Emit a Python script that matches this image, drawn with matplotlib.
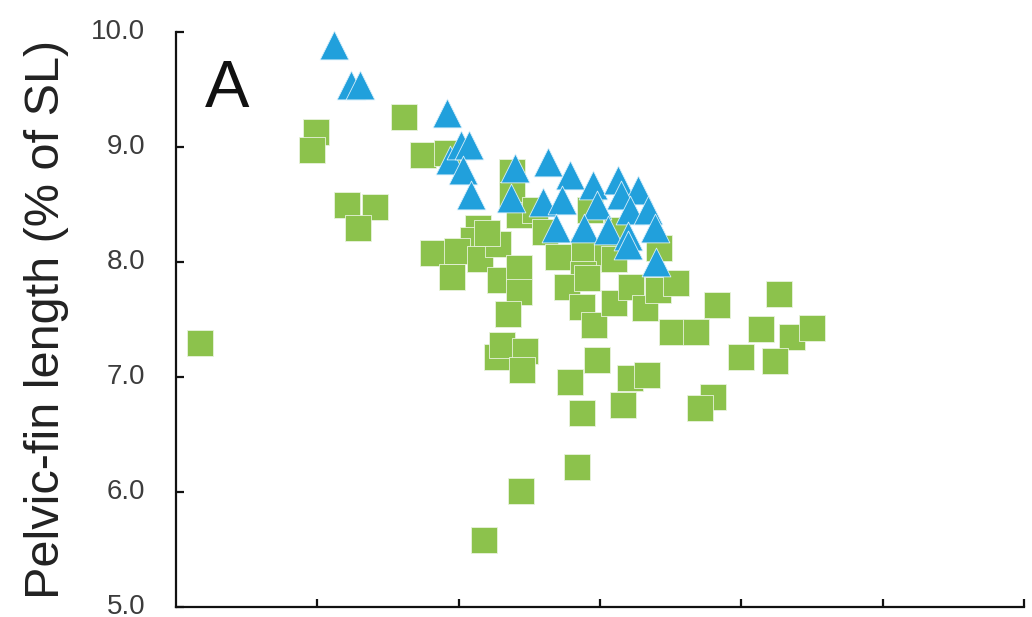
import matplotlib
matplotlib.use("Agg")
import matplotlib.pyplot as plt

plt.rcParams['font.family'] = ['Liberation Sans', 'DejaVu Sans']

# group 1 (green squares)
sq_x = [0.17, 0.99, 0.96, 1.21, 1.41, 1.29, 1.61, 1.75, 1.92, 1.82,
        1.95, 2.14, 2.10, 1.99, 2.15, 2.28, 2.29, 2.43, 2.43, 2.35,
        2.27, 2.31, 2.47, 2.45, 2.18, 2.44, 2.84, 2.38, 2.38, 2.43,
        2.54, 2.20, 2.93, 3.12, 2.61, 2.70, 2.89, 3.05, 2.88, 2.77,
        2.91, 2.87, 2.96, 3.10, 3.10, 3.22, 3.32, 3.41, 3.54, 3.42,
        3.51, 3.68, 3.83, 2.98, 2.79, 2.87, 3.21, 3.33, 3.16, 3.80,
        3.71, 4.00, 4.14, 4.27, 4.36, 4.50, 4.24]
sq_y = [7.30, 9.13, 8.97, 8.50, 8.48, 8.30, 9.26, 8.93, 8.95, 8.08,
        7.87, 8.30, 8.19, 8.10, 8.03, 8.16, 7.84, 7.95, 7.74, 7.55,
        7.17, 7.28, 7.23, 7.06, 5.58, 6.01, 6.22, 8.78, 8.58, 8.41,
        8.45, 8.25, 8.45, 8.28, 8.26, 8.04, 8.10, 8.04, 7.90, 7.78,
        7.86, 7.61, 7.45, 8.03, 7.64, 7.78, 7.60, 7.76, 7.82, 8.12,
        7.39, 7.39, 7.63, 7.15, 6.96, 6.69, 6.99, 7.02, 6.76, 6.83,
        6.73, 7.17, 7.42, 7.72, 7.35, 7.43, 7.14]

# group 2 (blue triangles)
tri_x = [1.12, 1.24, 1.30, 1.92, 1.94, 2.02, 2.07, 2.03, 2.09, 2.40,
         2.63, 2.79, 2.95, 3.13, 3.27, 3.15, 2.37, 2.60, 2.73, 2.98,
         3.21, 3.34, 3.39, 2.69, 2.89, 3.06, 3.20, 3.20, 3.40]
tri_y = [9.89, 9.54, 9.54, 9.30, 8.89, 9.02, 9.02, 8.80, 8.58, 8.82,
         8.87, 8.76, 8.67, 8.71, 8.63, 8.58, 8.56, 8.52, 8.54, 8.50,
         8.45, 8.45, 8.30, 8.30, 8.30, 8.28, 8.23, 8.15, 8.00]

y_ticks = [5.0, 6.0, 7.0, 8.0, 9.0, 10.0]

fig = plt.figure(figsize=(10.32, 6.17), dpi=100)
ax = fig.add_axes([0.1705, 0.0162, 0.8217, 0.9319])

ax.scatter(sq_x, sq_y, marker='s', s=340, color='#8cc24c',
           edgecolors='#e8f3dc', linewidths=0.6, zorder=2, clip_on=False)
ax.scatter(tri_x, tri_y, marker='^', s=430, color='#21a0dc',
           edgecolors='#d8eefa', linewidths=0.6, zorder=3, clip_on=False)

ax.set_xlim(0, 6)
ax.set_ylim(5, 10)
ax.set_xticks([1, 2, 3, 4, 5, 6])
ax.set_xticklabels([])
ax.set_yticks(y_ticks)
ax.set_yticklabels(['%.1f' % v for v in y_ticks])

for side in ['top', 'right']:
    ax.spines[side].set_visible(False)
for side in ['left', 'bottom']:
    ax.spines[side].set_linewidth(1.6)
    ax.spines[side].set_color('#111111')

ax.tick_params(axis='both', direction='in', length=6, width=1.6, color='#111111')
ax.tick_params(axis='y', labelsize=20, labelcolor='#3c3c3c', pad=22)
for lbl in ax.get_yticklabels():
    lbl.set_verticalalignment('center')

ax.set_ylabel('Pelvic-fin length (% of SL)', fontsize=35, color='#222222', labelpad=16)
ax.text(0.034, 0.87, 'A', transform=ax.transAxes, fontsize=48, color='#111111',
        va='baseline', ha='left')

fig.savefig('out.png', dpi=100)
